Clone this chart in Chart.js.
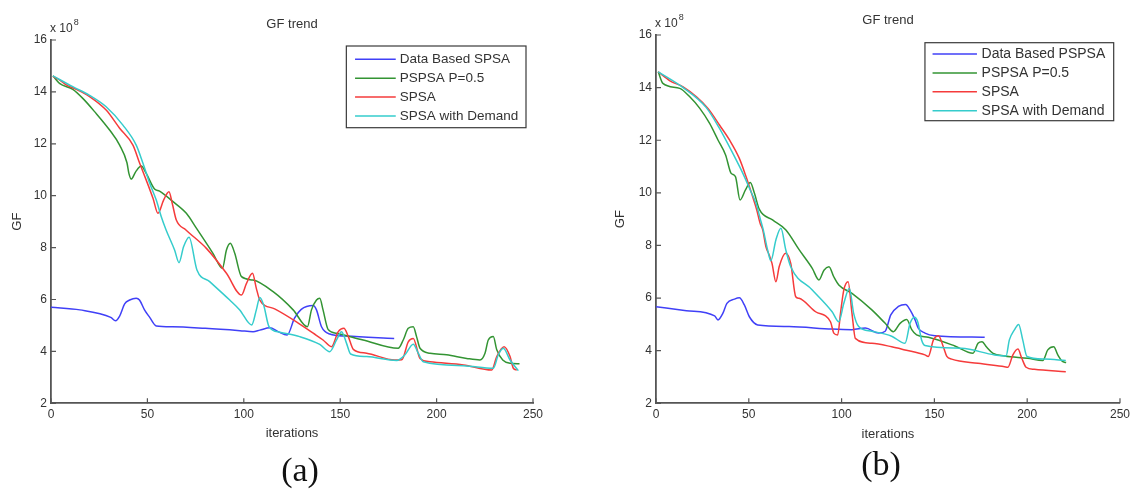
<!DOCTYPE html>
<html>
<head>
<meta charset="utf-8">
<title>GF trend</title>
<script src="https://cdn.jsdelivr.net/npm/chart.js@4.4.1/dist/chart.umd.min.js"></script>
<style>
  body { margin: 0; background: #fff; width: 1134px; height: 489px; overflow: hidden; position: relative; }
  canvas { position: absolute; top: 0; }
  #chartA { left: 0; }
  #chartB { left: 570px; }
  .caption { position: absolute; width: 100px; text-align: center; font: 34px/34px "Liberation Serif", "Times New Roman", serif; color: #111; }
</style>
</head>
<body>
<canvas id="chartA" width="570" height="489"></canvas>
<canvas id="chartB" width="564" height="489"></canvas>
<div class="caption" style="left:250px; top:453px;">(a)</div>
<div class="caption" style="left:831px; top:447px;">(b)</div>
<script>
const namesA = ['Data Based SPSA', 'PSPSA P=0.5', 'SPSA', 'SPSA with Demand'];
const namesB = ['Data Based PSPSA', 'PSPSA P=0.5', 'SPSA', 'SPSA with Demand'];
const lineColors = ['#4040f7', '#339433', '#f53b3b', '#35cccc'];
const xTicks = [0, 50, 100, 150, 200, 250];
const yTicks = [2, 4, 6, 8, 10, 12, 14, 16];

// (a) GF values are in units of 1e8
const aBlueIter = [0, 15, 31, 33.5, 35.6, 38.2, 40.8, 44.2, 45.9, 48.5, 51.2, 54.6, 63, 80, 98, 104.8, 108.3, 113.5, 117.8, 122.5, 126.3, 129.8, 136, 137.7, 140.3, 144.6, 153, 178];
const aBlueGF = [5.7, 5.6, 5.31, 5.18, 5.36, 5.83, 5.98, 6.05, 5.98, 5.6, 5.31, 4.98, 4.95, 4.89, 4.8, 4.76, 4.82, 4.91, 4.76, 4.63, 5.28, 5.62, 5.77, 5.6, 4.95, 4.67, 4.59, 4.5];
const aGreenIter = [1, 4.4, 11.3, 16.5, 22.6, 30.4, 35.6, 39.4, 40.4, 41.6, 43.9, 46.8, 49.4, 53.7, 56.3, 63.3, 70.2, 75.4, 84, 88.9, 91, 93, 95.3, 98.8, 104.8, 115.2, 125.6, 133, 135.1, 137.7, 139.4, 141.1, 143.7, 148.1, 161.9, 180.1, 182.7, 185.3, 187.9, 189.6, 191.4, 196.6, 205.2, 215.6, 222.5, 225.1, 226.8, 229.4, 231.2, 234.3, 238.1, 243];
const aGreenGF = [14.62, 14.33, 14.1, 13.75, 13.24, 12.53, 11.95, 11.27, 10.86, 10.64, 10.92, 11.14, 10.86, 10.26, 10.18, 9.77, 9.32, 8.75, 7.78, 7.2, 7.91, 8.17, 7.78, 6.88, 6.75, 6.3, 5.6, 4.95, 5.6, 5.98, 6.05, 5.6, 4.85, 4.7, 4.44, 4.12, 4.44, 4.89, 4.95, 4.57, 4.12, 3.93, 3.87, 3.73, 3.67, 3.93, 4.44, 4.57, 4.06, 3.67, 3.54, 3.52];
const aRedIter = [1, 4.4, 7.9, 13.1, 20, 28.6, 35.6, 42.5, 46, 49.4, 52.9, 55.5, 58.4, 61.2, 62.9, 65, 70, 80.6, 91, 98.8, 101.4, 104.5, 106.5, 108.3, 116, 127.3, 136, 141.1, 145.5, 149, 151.9, 154.2, 156.8, 163.7, 178.4, 182, 185.3, 187.9, 191.4, 196.6, 213.9, 228.6, 231.2, 235, 238.1, 239.8, 241.6];
const aRedGF = [14.6, 14.46, 14.27, 14.1, 13.82, 13.3, 12.6, 11.95, 11.25, 10.6, 9.9, 9.32, 9.83, 10.15, 9.7, 9.06, 8.68, 7.97, 7.01, 6.17, 6.62, 7.01, 6.43, 5.98, 5.64, 5.14, 4.7, 4.44, 4.18, 4.76, 4.89, 4.57, 4.08, 3.93, 3.67, 3.68, 4.37, 4.5, 3.73, 3.6, 3.48, 3.28, 3.8, 4.18, 3.8, 3.35, 3.28];
const aCyanIter = [1, 11.3, 20, 28.6, 37.3, 44.2, 47.7, 51.2, 54.6, 57.2, 59.7, 64.1, 66.4, 68.8, 71.6, 75.7, 82.3, 92.7, 97.9, 104.1, 106.5, 108.3, 110.3, 113.1, 118.7, 129, 139.4, 144.6, 148.1, 150.7, 153.3, 155.4, 163.7, 179.3, 183.6, 187.9, 190.5, 193.1, 213.9, 229.4, 232, 234.6, 238.1, 242.4];
const aCyanGF = [14.62, 14.2, 13.87, 13.43, 12.72, 11.95, 11.25, 10.48, 9.83, 9.19, 8.68, 7.91, 7.42, 8.04, 8.4, 7.14, 6.69, 5.98, 5.6, 5.02, 5.6, 6.08, 5.79, 4.95, 4.74, 4.57, 4.27, 3.99, 4.44, 4.76, 4.31, 3.9, 3.8, 3.65, 3.87, 4.28, 3.93, 3.6, 3.45, 3.35, 3.87, 4.12, 3.67, 3.26];

// (b)
const bBlueIter = [0, 16.4, 31.6, 33.4, 36, 38.2, 42.3, 44.9, 47.6, 50.3, 54.8, 71.7, 94.9, 105.6, 112.8, 119.9, 123.5, 126.5, 130.6, 134.5, 136.9, 139.6, 141.3, 144.9, 150.3, 177.1];
const bBlueGF = [5.67, 5.52, 5.32, 5.17, 5.42, 5.8, 5.96, 6.01, 5.74, 5.29, 4.98, 4.92, 4.82, 4.8, 4.86, 4.67, 4.74, 5.36, 5.68, 5.76, 5.55, 5.17, 4.86, 4.67, 4.57, 4.51];
const bGreenIter = [1.2, 3.7, 12.8, 18.2, 23.6, 28.9, 33.4, 37.5, 40.5, 42.8, 45.3, 48.2, 50.8, 53, 55.7, 62.8, 70, 77.1, 84.2, 87.8, 90.5, 93.2, 95.8, 98.5, 105.6, 116.3, 123.5, 127.9, 131.5, 135.1, 137.8, 140.4, 146.7, 161, 170.8, 173.5, 175.7, 178, 181.6, 187.8, 200.3, 208.4, 211.1, 214.3, 216.5, 219.2, 221];
const bGreenGF = [14.6, 14.16, 13.97, 13.65, 13.21, 12.64, 12.01, 11.44, 10.74, 10.62, 9.73, 10.11, 10.39, 9.99, 9.37, 8.97, 8.59, 7.84, 7.13, 6.69, 7.06, 7.19, 6.81, 6.5, 6.18, 5.55, 5.04, 4.72, 5.04, 5.19, 4.8, 4.6, 4.51, 4.18, 3.9, 4.28, 4.34, 4.15, 3.9, 3.8, 3.71, 3.63, 4.03, 4.15, 3.84, 3.58, 3.55];
const bRedIter = [1.2, 7.5, 14.6, 21.8, 28, 34.2, 39.6, 44.9, 48.5, 52.1, 54.3, 56.1, 57.5, 59.2, 61, 62.5, 64.6, 66.4, 69.9, 72.6, 75.3, 77.1, 86, 94, 95.8, 97.9, 99.4, 101.2, 103.5, 105.6, 107.4, 116.3, 127, 134.2, 144.9, 146.7, 149.5, 152.2, 154.8, 156.7, 159.3, 173.5, 187.8, 189.6, 192.3, 195, 197.1, 199.4, 203.8, 220.8];
const bRedGF = [14.6, 14.26, 14.03, 13.65, 13.21, 12.58, 12.01, 11.31, 10.62, 9.85, 9.35, 8.84, 8.59, 7.96, 7.64, 7.32, 6.62, 7.2, 7.7, 7.32, 6.05, 5.99, 5.48, 5.1, 4.67, 4.6, 5.42, 6.31, 6.62, 5.42, 4.47, 4.28, 4.15, 4.03, 3.84, 3.78, 4.41, 4.57, 4.15, 3.78, 3.68, 3.52, 3.39, 3.37, 3.84, 4.06, 3.71, 3.37, 3.29, 3.2];
const bCyanIter = [1.2, 14.6, 27.1, 34.2, 41.4, 46.8, 51.2, 53.9, 56.6, 57.8, 60.1, 61.9, 64.6, 67.3, 69.9, 72.6, 84.2, 94.9, 98.5, 101.2, 104.2, 106.5, 109.2, 116.3, 127, 134.2, 136.9, 139.2, 141, 143.1, 144.9, 164.5, 182.4, 188.6, 190.4, 193.1, 195.4, 197.6, 199.9, 209.2, 220.8];
const bCyanGF = [14.6, 14.0, 13.24, 12.45, 11.5, 10.74, 10.04, 9.6, 8.9, 8.59, 7.84, 7.42, 8.21, 8.65, 7.84, 7.19, 6.31, 5.48, 5.1, 5.8, 6.37, 5.42, 4.92, 4.74, 4.55, 4.28, 5.04, 5.27, 5.1, 4.41, 4.2, 4.09, 3.84, 3.8, 4.41, 4.79, 5.0, 4.41, 3.78, 3.68, 3.63];

const FONT = '"Liberation Sans", Arial, sans-serif';
const textColor = '#333';
const axisColor = '#555';

function pts(xs, ys) {
  return xs.map((x, i) => ({ x: x, y: ys[i] }));
}

// MATLAB look: inward ticks, exponent label, boxed legend inside the axes
const matlabAxes = {
  id: 'matlabAxes',
  afterDatasetsDraw(chart, args, opts) {
    const ctx = chart.ctx;
    const area = chart.chartArea;
    const sx = chart.scales.x, sy = chart.scales.y;
    ctx.save();
    ctx.strokeStyle = axisColor;
    ctx.lineWidth = 1.2;
    ctx.beginPath();
    sx.ticks.forEach(t => {
      const px = sx.getPixelForValue(t.value);
      ctx.moveTo(px, area.bottom);
      ctx.lineTo(px, area.bottom - 5);
    });
    sy.ticks.forEach(t => {
      const py = sy.getPixelForValue(t.value);
      ctx.moveTo(area.left, py);
      ctx.lineTo(area.left + 5, py);
    });
    ctx.stroke();

    // x 10^8
    ctx.fillStyle = textColor;
    ctx.textBaseline = 'middle';
    ctx.textAlign = 'left';
    ctx.font = '12px ' + FONT;
    const ex = area.left - 1, ey = area.top - 11;
    ctx.fillText('x 10', ex, ey);
    const w = ctx.measureText('x 10').width;
    ctx.font = '9px ' + FONT;
    ctx.fillText('8', ex + w + 1, ey - 6);

    // legend
    const lg = opts.legend;
    ctx.font = lg.size + 'px ' + FONT;
    const items = chart.data.datasets;
    let maxW = 0;
    items.forEach(d => { maxW = Math.max(maxW, ctx.measureText(d.label).width); });
    const boxW = lg.textX + maxW + lg.padRight;
    const boxH = lg.firstRow + lg.rowGap * (items.length - 1) + lg.padBottom;
    const bx = area.right - lg.rightGap - boxW;
    const by = area.top + lg.topGap;
    ctx.fillStyle = '#fff';
    ctx.fillRect(bx, by, boxW, boxH);
    ctx.strokeStyle = '#3a3a3a';
    ctx.lineWidth = 1.2;
    ctx.strokeRect(bx, by, boxW, boxH);
    items.forEach((d, i) => {
      const ry = by + lg.firstRow + i * lg.rowGap;
      ctx.strokeStyle = d.borderColor;
      ctx.lineWidth = 1.5;
      ctx.beginPath();
      ctx.moveTo(bx + lg.lineStart, ry);
      ctx.lineTo(bx + lg.lineStart + lg.lineLen, ry);
      ctx.stroke();
      ctx.fillStyle = textColor;
      ctx.fillText(d.label, bx + lg.textX, ry);
    });
    ctx.restore();
  }
};

function makeChart(id, names, series, cfg) {
  const datasets = series.map((s, i) => ({
    label: names[i],
    data: pts(s[0], s[1]),
    borderColor: lineColors[i],
    backgroundColor: lineColors[i],
    borderWidth: 1.5,
    pointRadius: 0,
    cubicInterpolationMode: 'monotone',
    order: names.length - i
  }));
  return new Chart(document.getElementById(id), {
    type: 'line',
    data: { datasets: datasets },
    plugins: [matlabAxes],
    options: {
      responsive: false,
      animation: false,
      events: [],
      layout: { padding: cfg.padding },
      plugins: {
        legend: { display: false },
        tooltip: { enabled: false },
        title: {
          display: true,
          text: 'GF trend',
          fullSize: false,
          color: textColor,
          font: { family: FONT, size: 13, weight: 'normal', lineHeight: 1.2 },
          padding: cfg.titlePad
        },
        matlabAxes: { legend: cfg.legend }
      },
      scales: {
        x: {
          type: 'linear',
          min: xTicks[0],
          max: xTicks[xTicks.length - 1],
          afterBuildTicks: s => { s.ticks = xTicks.map(v => ({ value: v })); },
          afterFit: s => { s.height = 40; },
          grid: { display: false, drawTicks: false },
          border: { display: true, color: axisColor, width: 1.8 },
          ticks: { padding: 4, color: textColor, font: { family: FONT, size: 12 } },
          title: {
            display: true, text: 'iterations', color: textColor,
            font: { family: FONT, size: 13, lineHeight: 1.2 },
            padding: { top: 0, bottom: cfg.xTitlePad }
          }
        },
        y: {
          type: 'linear',
          min: yTicks[0],
          max: yTicks[yTicks.length - 1],
          afterBuildTicks: s => { s.ticks = yTicks.map(v => ({ value: v })); },
          afterFit: s => { s.width = cfg.yWidth; },
          grid: { display: false, drawTicks: false },
          border: { display: true, color: axisColor, width: 1.8 },
          ticks: { padding: 4, color: textColor, font: { family: FONT, size: 12 } },
          title: {
            display: true, text: 'GF', color: textColor,
            font: { family: FONT, size: 13, lineHeight: 1.2 },
            padding: { top: cfg.yTitlePad, bottom: 0 }
          }
        }
      }
    }
  });
}

makeChart('chartA', namesA, [
  [aBlueIter, aBlueGF], [aGreenIter, aGreenGF], [aRedIter, aRedGF], [aCyanIter, aCyanGF]
], {
  padding: { left: 0, right: 37, top: 0, bottom: 45.7 },
  titlePad: { top: 16.2, bottom: 8.2 },
  yWidth: 51,
  yTitlePad: 10,
  xTitlePad: 2,
  legend: { size: 13.5, rightGap: 7, topGap: 6, firstRow: 13.3, rowGap: 18.9, lineStart: 8.7, lineLen: 40.7, textX: 53.4, padRight: 7.7, padBottom: 11.7 }
});

makeChart('chartB', namesB, [
  [bBlueIter, bBlueGF], [bGreenIter, bGreenGF], [bRedIter, bRedGF], [bCyanIter, bCyanGF]
], {
  padding: { left: 30, right: 11, top: 0, bottom: 45.7 },
  titlePad: { top: 12.2, bottom: 7.2 },
  yWidth: 56,
  yTitlePad: 12.2,
  xTitlePad: 1.5,
  legend: { size: 14, rightGap: 6.3, topGap: 7.7, firstRow: 11.3, rowGap: 18.9, lineStart: 7.6, lineLen: 44.4, textX: 56.6, padRight: 8.4, padBottom: 10 }
});
</script>
</body>
</html>
